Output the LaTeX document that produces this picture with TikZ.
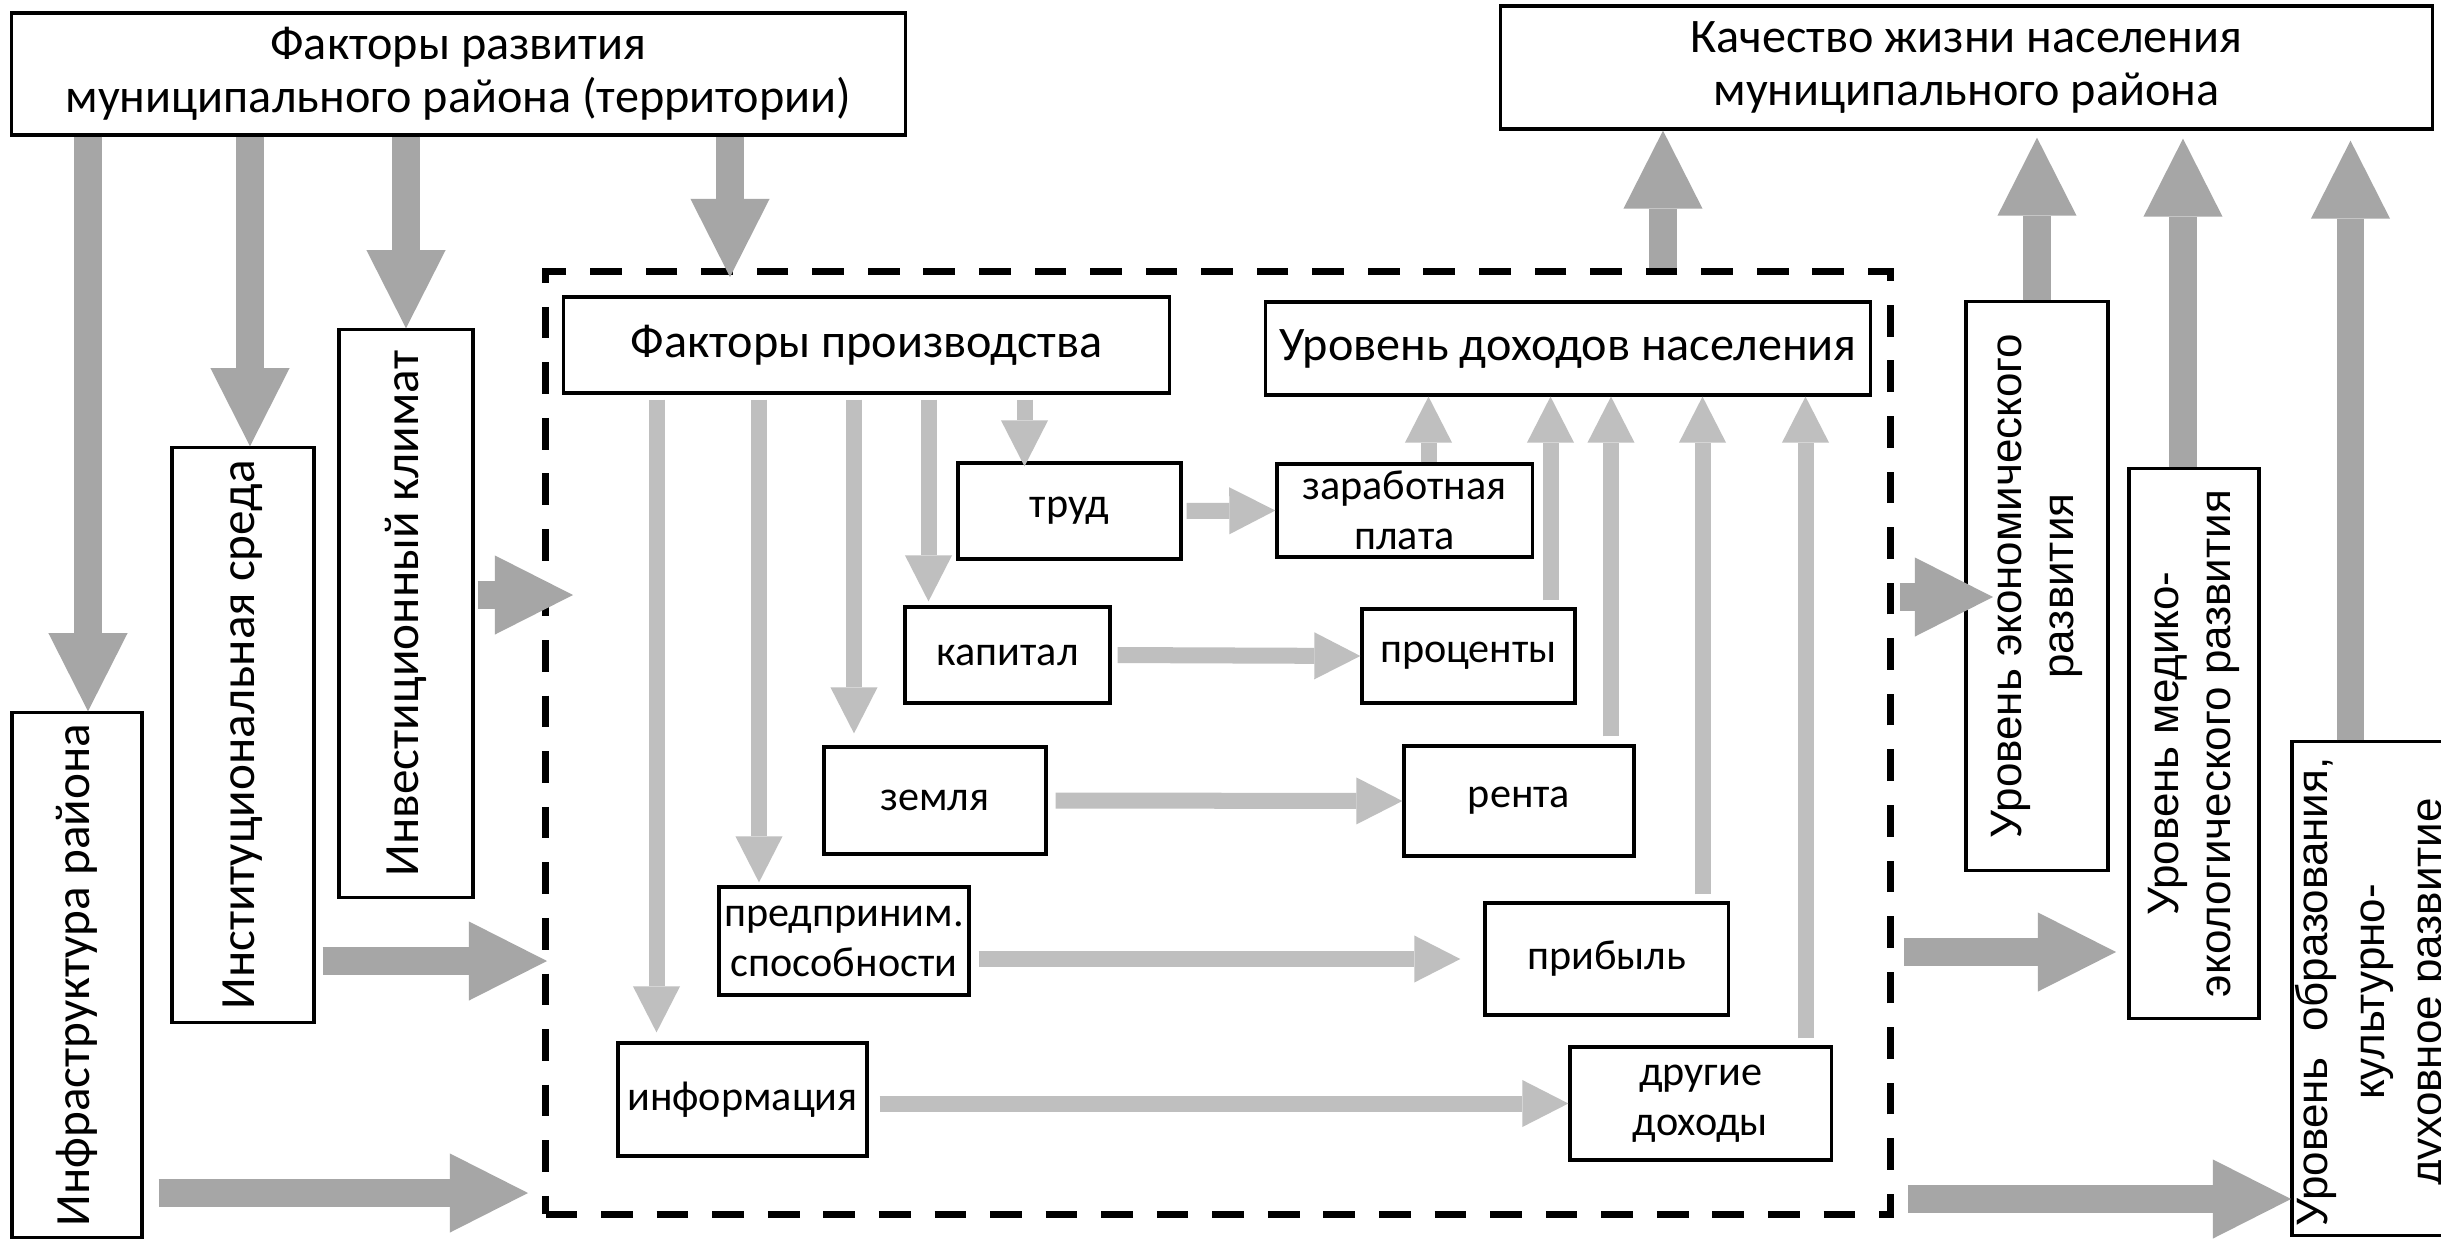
\documentclass[tikz,border=0pt]{standalone}
\usepackage{fontspec}
\setmainfont{Carlito}
\newfontfamily\arialfont{Liberation Sans}
\usetikzlibrary{arrows.meta,calc}
\definecolor{darkarr}{HTML}{A6A6A6}
\definecolor{lightarr}{HTML}{BFBFBF}

\begin{document}
\begin{tikzpicture}[x=0.01cm, y=-0.01cm,
  rbox/.style = {draw, line width=0.9pt, inner sep=0pt, align=center},
  bigtxt/.style = {font=\fontsize{13.7}{15.2}\selectfont},
  smalltxt/.style = {font=\fontsize{12}{14.2}\selectfont},
  vlab/.style = {rotate=90, align=center, inner sep=0pt,
    font=\fontsize{14}{15.2}\selectfont},
  rlab/.style = {rotate=90, align=center, inner sep=0pt,
    font=\arialfont\fontsize{12.5}{15}\selectfont},
  bigarr/.style = {draw=darkarr, line width=0.275cm,
    -{Triangle[length=0.78cm, width=0.79cm, line width=0pt]}},
  smallarr/.style = {draw=lightarr, line width=0.16cm,
    -{Triangle[length=0.46cm, width=0.47cm, line width=0pt]}},
  dashframe/.style = {draw, line width=2pt, dash pattern=on 9pt off 6.8pt}
  ]
  \fill[white] (0,0) rectangle (2441,1239);
  \useasboundingbox (0,0) rectangle (2441,1239);

  % outer level
  \node[rbox, bigtxt, minimum width=8.93cm, minimum height=1.22cm] (fdev) at (458.5,74)
    {Факторы развития\\муниципального района (территории)};
  \node[rbox, bigtxt, minimum width=9.31cm, minimum height=1.23cm] (qual) at (1966.5,67.5)
    {Качество жизни населения\\муниципального района};

  \node[rbox, minimum width=1.30cm, minimum height=5.24cm] (infra) at (77,975) {};
  \node[vlab] (infra-t) at (infra) {Инфраструктура района};
  \node[rbox, minimum width=1.42cm, minimum height=5.74cm] (inst) at (243,735) {};
  \node[vlab] (inst-t) at (inst) {Институциональная среда};
  \node[rbox, minimum width=1.34cm, minimum height=5.67cm] (invest) at (406,613.5) {};
  \node[vlab] (invest-t) at (invest) {Инвестиционный климат};

  \node[rbox, minimum width=1.42cm, minimum height=5.68cm] (econ) at (2037,586) {};
  \node[rlab] (econ-t) at (econ) {Уровень экономического\\развития};
  \node[rbox, minimum width=1.30cm, minimum height=5.49cm] (medic) at (2194,743.5) {};
  \node[rlab] (medic-t) at (medic) {Уровень медико-\\экологического развития};
  \node[rbox, minimum width=1.81cm, minimum height=4.93cm] (obraz) at (2382.5,988.5) {};
  \node[rlab, font=\arialfont\fontsize{12.5}{16.2}\selectfont] (obraz-t) at (2373,992)
    {\makebox[4.69cm][s]{Уровень образования,}\\культурно-\\духовное развитие};

  % production block
  \node[dashframe, minimum width=13.44cm, minimum height=9.42cm, inner sep=0pt] (incbox) at (1218,743) {};
  \node[rbox, bigtxt, minimum width=6.05cm, minimum height=0.96cm] (fprod) at (866.5,345)
    {Факторы производства};
  \node[rbox, bigtxt, minimum width=6.04cm, minimum height=0.93cm] (income) at (1568,348.5)
    {Уровень доходов населения};

  \node[rbox, smalltxt, minimum width=2.23cm, minimum height=0.96cm] (trud) at (1069.5,511) {труд};
  \node[rbox, smalltxt, minimum width=2.55cm, minimum height=0.93cm] (zarpl) at (1404.5,510.5)
    {заработная\\плата};
  \node[rbox, smalltxt, minimum width=2.05cm, minimum height=0.96cm] (kapit) at (1007.5,655) {капитал};
  \node[rbox, smalltxt, minimum width=2.13cm, minimum height=0.94cm] (procent) at (1468.5,656) {проценты};
  \node[rbox, smalltxt, minimum width=2.22cm, minimum height=1.07cm] (zemlya) at (935,800.5) {земля};
  \node[rbox, smalltxt, minimum width=2.30cm, minimum height=1.10cm] (renta) at (1519,801) {рента};
  \node[rbox, smalltxt, minimum width=2.50cm, minimum height=1.08cm] (predpr) at (844,941)
    {предприним.\\способности};
  \node[rbox, smalltxt, minimum width=2.43cm, minimum height=1.12cm] (pribyl) at (1606.5,959) {прибыль};
  \node[rbox, smalltxt, minimum width=2.49cm, minimum height=1.13cm] (inform) at (742.5,1099.5) {информация};
  \node[rbox, smalltxt, minimum width=2.61cm, minimum height=1.13cm] (drugie) at (1700.5,1103.5)
    {другие\\доходы};

  % free ends of the big arrows
  \coordinate (inTop) at (730,277);
  \coordinate (inL1) at (573,595);
  \coordinate (inL2) at (547,961);
  \coordinate (inL3) at (528,1193);
  \coordinate (outTop) at (1663,268);
  \coordinate (outR1) at (1993,597);
  \coordinate (outR2) at (2116,952);
  \coordinate (outR3) at (2291,1199);

  % big arrows
  \draw[bigarr] ($(fdev.south -| infra.north)+(11,0)$) -- ($(infra.north)+(11,0)$);
  \draw[bigarr] ($(fdev.south -| inst.north)+(7,0)$) -- ($(inst.north)+(7,0)$);
  \draw[bigarr] (fdev.south -| invest.north) -- (invest.north);
  \draw[bigarr] (fdev.south -| inTop) -- (inTop);
  \draw[bigarr, shorten <=0.03cm] (invest.east |- inL1) -- (inL1);
  \draw[bigarr, shorten <=0.07cm] (inst.east |- inL2) -- (inL2);
  \draw[bigarr, shorten <=0.15cm] (infra.east |- inL3) -- (inL3);
  \draw[bigarr, shorten <=0.06cm] (incbox.east |- outR1) -- (outR1);
  \draw[bigarr, shorten <=0.10cm] (incbox.east |- outR2) -- (outR2);
  \draw[bigarr, shorten <=0.14cm] (incbox.east |- outR3) -- (outR3);
  \draw[bigarr] (outTop) -- (outTop |- qual.south);
  \draw[bigarr, shorten >=0.07cm] (econ.north) -- (econ.north |- qual.south);
  \draw[bigarr, shorten >=0.08cm] ($(medic.north)+(-11,0)$) -- ($(medic.north |- qual.south)+(-11,0)$);
  \draw[bigarr, shorten >=0.10cm] ($(obraz.north)+(-32,0)$) -- ($(obraz.north |- qual.south)+(-32,0)$);

  % factors down
  \coordinate (dInf) at ($(inform.north)+(-86,-9)$);
  \coordinate (dPre) at ($(predpr.north)+(-85,-3)$);
  \coordinate (dZem) at ($(zemlya.north)+(-81,-12)$);
  \coordinate (dKap) at ($(kapit.north)+(-79,-4)$);
  \coordinate (dTru) at ($(trud.north)+(-45,5)$);
  \draw[smallarr, shorten <=0.05cm] (fprod.south -| dInf) -- (dInf);
  \draw[smallarr, shorten <=0.05cm] (fprod.south -| dPre) -- (dPre);
  \draw[smallarr, shorten <=0.05cm] (fprod.south -| dZem) -- (dZem);
  \draw[smallarr, shorten <=0.05cm] (fprod.south -| dKap) -- (dKap);
  \draw[smallarr, shorten <=0.05cm] (fprod.south -| dTru) -- (dTru);

  % factor -> income
  \draw[smallarr, shorten <=0.04cm] (trud.east) -- (zarpl.west);
  \draw[smallarr, shorten <=0.06cm] (kapit.east) -- (procent.west);
  \draw[smallarr, shorten <=0.08cm] (zemlya.east) -- (renta.west);
  \draw[smallarr, shorten <=0.08cm, shorten >=0.23cm] (predpr.east |- pribyl.west) -- (pribyl.west);
  \draw[smallarr, shorten <=0.11cm] (inform.east |- drugie.west) -- (drugie.west);

  % incomes up
  \coordinate (uZar) at ($(zarpl.north)+(24,0)$);
  \coordinate (uPro) at ($(procent.north)+(82,-7)$);
  \coordinate (uRen) at ($(renta.north)+(92,-8)$);
  \coordinate (uPri) at ($(pribyl.north)+(96,-7)$);
  \coordinate (uDru) at ($(drugie.north)+(105,-7)$);
  \draw[smallarr] (uZar) -- (uZar |- income.south);
  \draw[smallarr] (uPro) -- (uPro |- income.south);
  \draw[smallarr] (uRen) -- (uRen |- income.south);
  \draw[smallarr] (uPri) -- (uPri |- income.south);
  \draw[smallarr] (uDru) -- (uDru |- income.south);
\end{tikzpicture}
\end{document}
